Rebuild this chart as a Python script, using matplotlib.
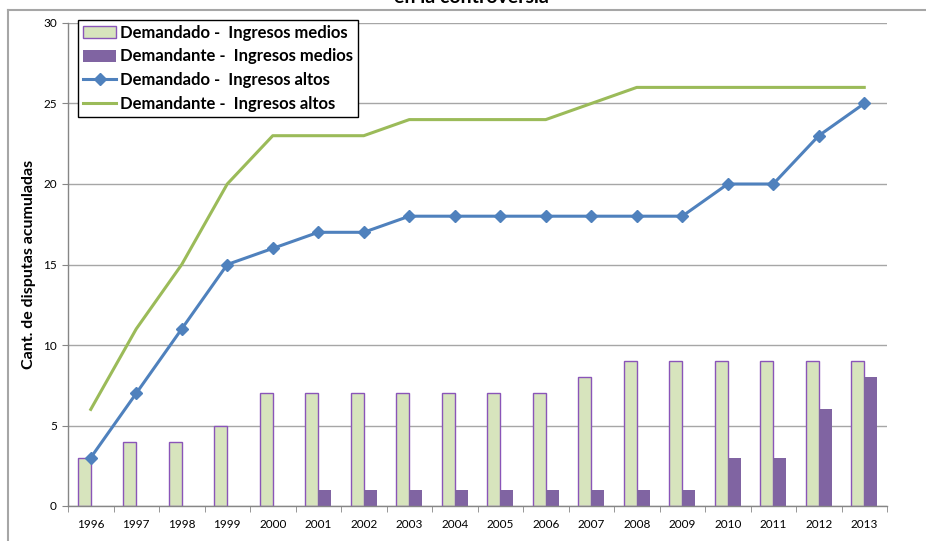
import matplotlib
matplotlib.use("Agg")
import matplotlib.pyplot as plt
import numpy as np
from matplotlib.lines import Line2D

plt.rcParams['font.family'] = ['Lato', 'DejaVu Sans']

years = ['1996', '1997', '1998', '1999', '2000', '2001', '2002', '2003', '2004',
         '2005', '2006', '2007', '2008', '2009', '2010', '2011', '2012', '2013']
demandado_medios = [3, 4, 4, 5, 7, 7, 7, 7, 7, 7, 7, 8, 9, 9, 9, 9, 9, 9]
demandante_medios = [0, 0, 0, 0, 0, 1, 1, 1, 1, 1, 1, 1, 1, 1, 3, 3, 6, 8]
demandado_altos = [3, 7, 11, 15, 16, 17, 17, 18, 18, 18, 18, 18, 18, 18, 20, 20, 23, 25]
demandante_altos = [6, 11, 15, 20, 23, 23, 23, 24, 24, 24, 24, 25, 26, 26, 26, 26, 26, 26]

labels = ['Demandado -  Ingresos medios', 'Demandante -  Ingresos medios',
          'Demandado -  Ingresos altos', 'Demandante -  Ingresos altos']
title = 'en la controversia'
ylabel = 'Cant. de disputas acumuladas'

W, H = 926, 541
fig = plt.figure(figsize=(W / 100, H / 100), dpi=100)
ax = fig.add_axes([68 / W, 1 - 506 / H, (887 - 68) / W, (506 - 23) / H])

x = np.arange(len(years))
bw = 0.29
b1 = ax.bar(x - bw / 2, demandado_medios, bw, color='#D7E4BD', edgecolor='#8A55B8',
            linewidth=1.0, zorder=2, label=labels[0])
b2 = ax.bar(x + bw / 2, demandante_medios, bw, color='#8064A2', edgecolor='none',
            linewidth=0, zorder=2, label=labels[1])
l1, = ax.plot(x, demandado_altos, color='#4F81BD', lw=2.2, marker='D', ms=6.5,
              zorder=4, label=labels[2])
l2, = ax.plot(x, demandante_altos, color='#9BBB59', lw=2.2, zorder=3, label=labels[3])

ax.set_xlim(-0.5, len(years) - 0.5)
ax.set_ylim(0, 30)
ax.set_yticks(range(0, 31, 5))
ax.set_xticks(x)
ax.set_xticklabels(years)
ax.set_xticks(np.arange(-0.5, len(years), 1), minor=True)
ax.tick_params(axis='x', which='major', length=0, labelsize=8.5, pad=9, colors='black')
ax.tick_params(axis='x', which='minor', length=4, color='#868686')
ax.tick_params(axis='y', length=4, color='#868686', labelsize=8.5, pad=4)
ax.yaxis.grid(True, color='#A6A6A6', lw=1.0, zorder=0)
ax.set_axisbelow(True)
for s in ['top', 'right']:
    ax.spines[s].set_visible(False)
for s in ['left', 'bottom']:
    ax.spines[s].set_color('#868686')
    ax.spines[s].set_linewidth(1.0)

ax.set_ylabel(ylabel, fontsize=11.5, fontweight='bold', labelpad=5)

leg = ax.legend(handles=[b1, b2, l1, l2], loc='upper left',
                bbox_to_anchor=(78 / W, 1 - 20 / H), bbox_transform=fig.transFigure,
                prop={'weight': 'bold', 'size': 12}, frameon=True, fancybox=False,
                edgecolor='black', framealpha=1, borderpad=0.3, labelspacing=0.45,
                handlelength=2.0, handletextpad=0.2, borderaxespad=0)
leg.get_frame().set_linewidth(1.0)
leg.set_zorder(10)

# outer chart frame (cropped)
fig.add_artist(Line2D([8 / W, 1], [1 - 10 / H, 1 - 10 / H], transform=fig.transFigure,
                      color='#A6A6A6', lw=1.5))
fig.add_artist(Line2D([8 / W, 8 / W], [0, 1 - 10 / H], transform=fig.transFigure,
                      color='#A6A6A6', lw=1.5))

fig.text(471 / W, 1 - 3 / H, title, ha='center', va='baseline', fontsize=14,
         fontweight='bold')

fig.savefig('out.png', dpi=100)
